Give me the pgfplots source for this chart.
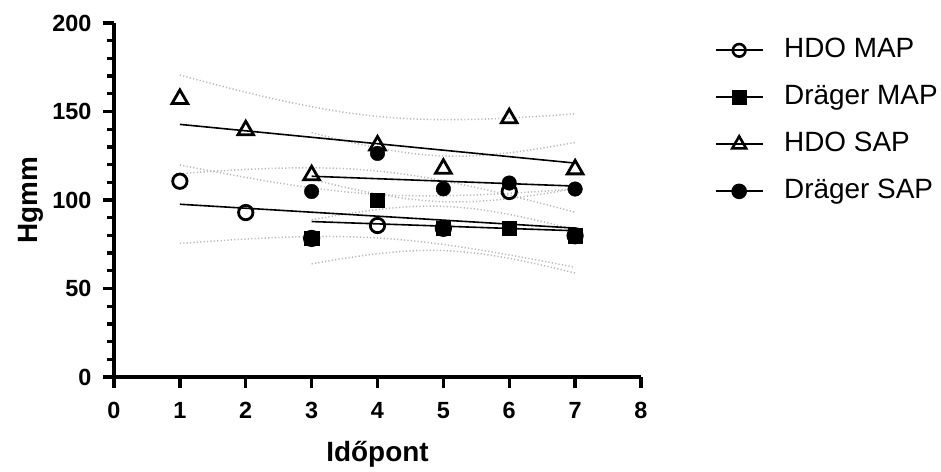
\documentclass[border=0pt]{standalone}
\usepackage{pgfplots}
\pgfplotsset{compat=1.18}
\usepackage{fontspec}
\setmainfont{Liberation Sans}
\begin{document}
\begin{tikzpicture}
\begin{axis}[
  name=ax,
  scale only axis, width=527bp, height=354bp,
  xmin=0, xmax=8, ymin=0, ymax=200,
  axis lines*=left,
  axis line style={line width=3.5bp},
  xtick={0,1,...,8}, ytick={0,50,...,200}, minor y tick num=4,
  tick align=outside,
  major tick length=11bp, minor tick length=7bp,
  every tick/.style={black, line width=3.3bp},
  tick label style={font=\fontsize{23.5}{24}\selectfont\bfseries},
  xticklabel style={yshift=-11bp},
  yticklabel style={xshift=-8bp},
  /pgf/number format/assume math mode=true,
  xlabel={Időpont}, ylabel={Hgmm},
  xlabel style={at={(0.5,-0.240)}, anchor=base, font=\fontsize{28}{28}\selectfont\bfseries},
  ylabel style={at={(-0.146,0.5)}, anchor=base, font=\fontsize{28}{28}\selectfont\bfseries},
  clip=false,
  legend style={draw=none, fill=none, at={(1.1404,0.960)}, anchor=north west,
    font=\fontsize{28}{28}\selectfont, row sep=21bp, inner sep=0pt,
    nodes={inner sep=0pt, text height=20bp, text depth=6bp}},
  legend cell align=left,
  legend image code/.code={\draw[mark repeat=2,mark phase=2,#1] plot coordinates {(0bp,0bp)(23bp,0bp)(47bp,0bp)}; \path (67bp,0bp);},
]
% legend entries
\addlegendimage{black, line width=2bp, mark=o, mark size=6.3bp, mark options={line width=2.6bp}}
\addlegendentry{HDO MAP}
\addlegendimage{black, line width=2bp, mark=square*, mark size=6.6bp}
\addlegendentry{Dräger MAP}
\addlegendimage{black, line width=2bp, mark=triangle, mark size=8bp, mark options={line width=2.6bp}}
\addlegendentry{HDO SAP}
\addlegendimage{black, line width=2bp, mark=*, mark size=6.8bp}
\addlegendentry{Dräger SAP}

% confidence bands (dotted, grey)
\pgfplotsset{band/.style={gray!55, line width=1.5bp, dash pattern=on 1.2bp off 2.2bp, forget plot, smooth}}
% HDO MAP
\addplot[band] coordinates {(1,119.78)(1.5,116.17)(2,112.75)(2.5,109.61)(3,106.86)(3.5,104.66)(4,103.16)(4.5,102.41)(5,102.37)(5.5,102.87)(6,103.77)(6.5,104.94)(7,106.30)};
\addplot[band] coordinates {(1,75.42)(1.5,76.77)(2,77.95)(2.5,78.85)(3,79.34)(3.5,79.30)(4,78.56)(4.5,77.05)(5,74.85)(5.5,72.11)(6,68.97)(6.5,65.54)(7,61.94)};
% Drager MAP
\addplot[band] coordinates {(3,111.71)(3.5,107.27)(4,103.41)(4.5,100.50)(5,99.01)(5.5,99.20)(6,100.81)(6.5,103.37)(7,106.51)};
\addplot[band] coordinates {(3,63.93)(3.5,67.07)(4,69.63)(4.5,71.24)(5,71.43)(5.5,69.94)(6,67.03)(6.5,63.17)(7,58.73)};
% HDO SAP
\addplot[band] coordinates {(1,170.54)(1.5,165.60)(2,160.89)(2.5,156.54)(3,152.69)(3.5,149.51)(4,147.22)(4.5,145.87)(5,145.39)(5.5,145.60)(6,146.31)(6.5,147.36)(7,148.66)};
\addplot[band] coordinates {(1,114.92)(1.5,116.22)(2,117.27)(2.5,117.98)(3,118.19)(3.5,117.71)(4,116.36)(4.5,114.07)(5,110.89)(5.5,107.04)(6,102.69)(6.5,97.98)(7,93.04)};
% Drager SAP
\addplot[band] coordinates {(3,138.05)(3.5,133.46)(4,129.45)(4.5,126.42)(5,124.86)(5.5,125.03)(6,126.67)(6.5,129.29)(7,132.49)};
\addplot[band] coordinates {(3,88.79)(3.5,92.00)(4,94.61)(4.5,96.26)(5,96.42)(5.5,94.87)(6,91.83)(6.5,87.83)(7,83.23)};

% regression lines
\pgfplotsset{reg/.style={black, line width=1.6bp, forget plot}}
\addplot[reg] coordinates {(1,97.60)(7,84.12)};
\addplot[reg] coordinates {(3,87.82)(7,82.62)};
\addplot[reg] coordinates {(1,142.73)(7,120.85)};
\addplot[reg] coordinates {(3,113.42)(7,107.86)};

% data
\addplot[only marks, forget plot, mark=o, mark size=7.2bp, mark options={black, line width=2.8bp}]
  coordinates {(1,110.6)(2,92.9)(3,78.3)(4,85.6)(5,84.0)(6,104.8)(7,79.8)};
\addplot[only marks, forget plot, mark=square*, mark size=7.2bp, mark options={black, fill=black}]
  coordinates {(3,78.3)(4,100.0)(5,84.0)(6,84.0)(7,79.8)};
\addplot[only marks, forget plot, mark=triangle, mark size=9bp, mark options={black, line width=2.8bp}]
  coordinates {(1,157.1)(2,139.4)(3,114.0)(4,130.8)(5,117.7)(6,146.2)(7,117.3)};
\addplot[only marks, forget plot, mark=*, mark size=7.3bp, mark options={black, fill=black}]
  coordinates {(3,104.8)(4,126.3)(5,106.3)(6,109.6)(7,106.2)};
\end{axis}
\path (ax.south west) ++(-114bp,-92bp) rectangle ++(941bp,469bp);
\end{tikzpicture}
\end{document}
